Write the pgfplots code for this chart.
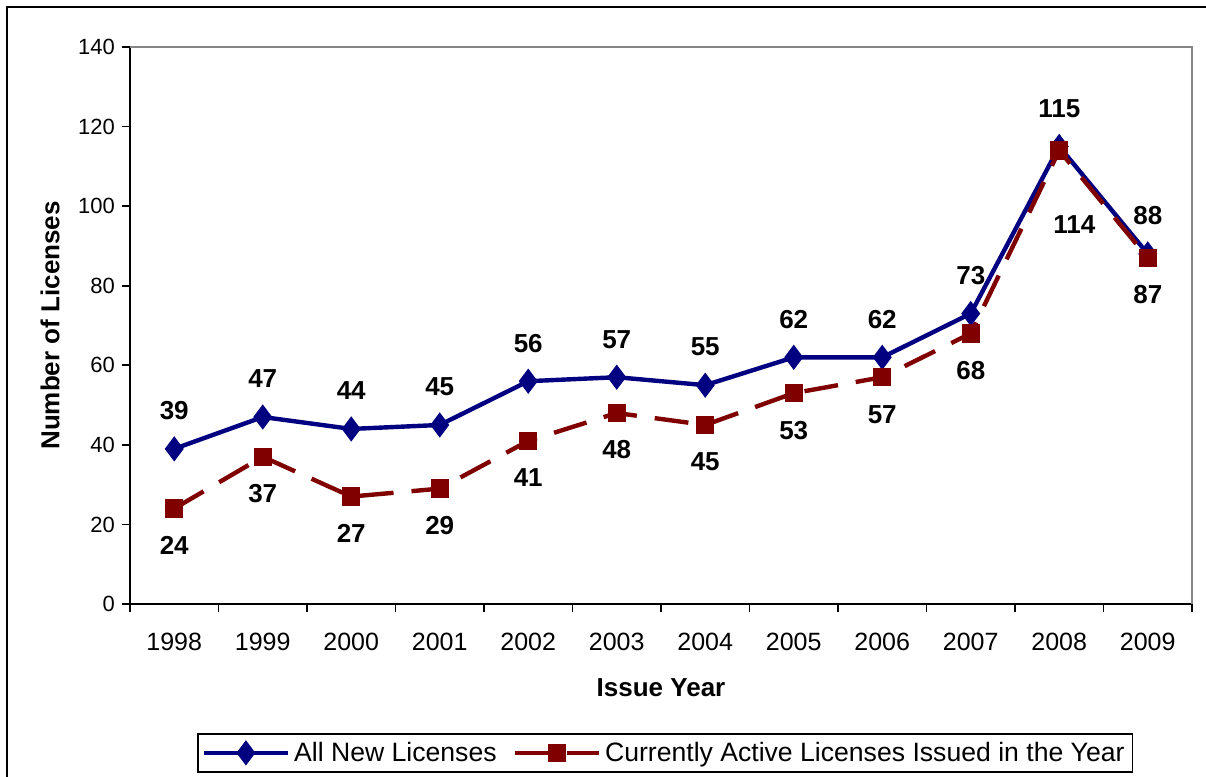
\documentclass[border=0pt]{standalone}
\usepackage{pgfplots}
\usepackage{pgfplotstable}
\pgfplotsset{compat=1.18}
\usepackage{fontspec}
\setmainfont{Liberation Sans}

\definecolor{allnew}{HTML}{000080}
\definecolor{active}{HTML}{800000}
\definecolor{framegray}{HTML}{868686}

\tikzset{labelfont/.style={black, font=\bfseries\fontsize{13}{15}\selectfont}}

% legend sample for the dashed series: long dash, square, short dash
\pgfplotsset{activelegend/.style={
  legend image code/.code={
    \draw[##1, solid] (0pt,0pt) -- (19pt,0pt);
    \draw[##1, solid] (28pt,0pt) -- (41pt,0pt);
    \draw[##1, mark repeat=2, mark phase=2] plot coordinates {(0pt,0pt) (21pt,0pt) (42pt,0pt)};
  }}}

% All new licenses per issue year
\pgfplotstableread{
x y
0 39
1 47
2 44
3 45
4 56
5 57
6 55
7 62
8 62
9 73
10 115
11 88
}\allnewtable

% Currently active licenses, by issue year
\pgfplotstableread{
x y
0 24
1 37
2 27
3 29
4 41
5 48
6 45
7 53
8 57
9 68
10 114
11 87
}\activetable

\begin{document}
\begin{tikzpicture}
\useasboundingbox (0,0) rectangle (603pt,388.5pt);
\draw[line width=1pt] (3.5pt,0) -- (3.5pt,385pt) -- (603pt,385pt);
\begin{axis}[
  at={(65pt,86.5pt)}, anchor=south west,
  scale only axis, width=531pt, height=278.5pt,
  xmin=-0.5, xmax=11.5, ymin=0, ymax=140,
  axis x line*=bottom, axis y line*=left,
  axis line style={line width=1pt, black},
  xtick={-0.5,0.5,1.5,2.5,3.5,4.5,5.5,6.5,7.5,8.5,9.5,10.5,11.5},
  x tick label as interval,
  xticklabels={1998,1999,2000,2001,2002,2003,2004,2005,2006,2007,2008,2009},
  ytick={0,20,...,140},
  tick align=outside, major tick length=4pt,
  tick style={black, line width=0.8pt},
  /pgf/number format/assume math mode=true,
  xticklabel style={font=\fontsize{12.5}{14}\selectfont, anchor=center, yshift=-15pt},
  yticklabel style={font=\fontsize{11}{13}\selectfont},
  xlabel={Issue Year},
  ylabel={Number of Licenses},
  xlabel style={font=\bfseries\fontsize{13}{15}\selectfont, at={(axis description cs:0.5,-0.1508)}, anchor=center},
  ylabel style={font=\bfseries\fontsize{13}{15}\selectfont, at={(axis description cs:-0.0753,0.5)}, anchor=center},
  clip=false,
  legend columns=2,
  legend style={at={(axis description cs:0.0631,-0.2316)}, anchor=north west,
    draw=black, line width=0.75pt, font=\fontsize{13.3}{15}\selectfont,
    inner xsep=2pt, inner ysep=2pt,
    /tikz/every even column/.append style={column sep=6pt}},
  legend image code/.code={
    \draw[#1] (0pt,0pt) -- (42pt,0pt);
    \draw[#1, mark repeat=2, mark phase=2] plot coordinates {(0pt,0pt) (21pt,0pt) (42pt,0pt)};
  },
]
\addplot[allnew, line width=2.2pt, mark=diamond*, mark size=4.5pt, mark options={solid, fill=allnew},
  nodes near coords,
  every node near coord/.append style={anchor=center, yshift=19pt, labelfont}]
  table[x=x, y=y] {\allnewtable};
\addlegendentry{All New Licenses}

% the 2008 label of this series sits lower and to the right, drawn separately below
\addplot[active, line width=2.2pt, dash pattern=on 17pt off 9pt, mark=square*, mark size=3.5pt,
  mark options={solid, fill=active}, activelegend,
  nodes near coords={\ifnum\coordindex=10 \else\pgfmathprintnumber{\pgfplotspointmeta}\fi},
  every node near coord/.append style={anchor=center, yshift=-18.5pt, labelfont}]
  table[x=x, y=y] {\activetable};
\addlegendentry{Currently Active Licenses Issued in the Year}

\addplot[draw=none, forget plot, nodes near coords,
  every node near coord/.append style={anchor=center, xshift=7.5pt, yshift=-37pt, labelfont}]
  coordinates {(10,114)};

\draw[framegray, line width=1pt] (rel axis cs:0,1) -- (rel axis cs:1,1) -- (rel axis cs:1,0);
\end{axis}
\end{tikzpicture}
\end{document}
